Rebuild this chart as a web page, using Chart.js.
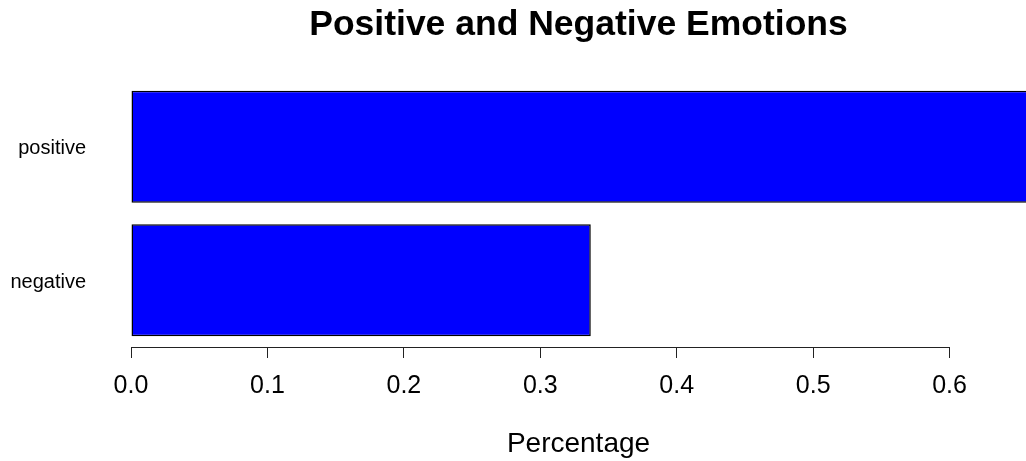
<!DOCTYPE html>
<html>
<head>
<meta charset="utf-8">
<script src="https://cdn.jsdelivr.net/npm/chart.js@4"></script>
<style>
  html, body { margin: 0; padding: 0; background: #fff; }
  #wrap { width: 1026px; height: 461px; position: relative; }
</style>
</head>
<body>
<div id="wrap"><canvas id="grafico"></canvas></div>
<script>
// dados do gráfico
const categorias = ['positive', 'negative'];
const valores = [0.663, 0.337];
const marcasX = [0, 0.1, 0.2, 0.3, 0.4, 0.5, 0.6];

const fonte = "'Liberation Sans', Arial, sans-serif";

// linha do eixo só de 0 até 0.6, como no R
const linhaEixo = {
    id: 'linhaEixo',
    afterDraw(chart) {
        const x = chart.scales.x;
        const c = chart.ctx;
        const y = chart.chartArea.bottom + 0.5;
        c.save();
        c.strokeStyle = '#222';
        c.lineWidth = 1;
        c.beginPath();
        c.moveTo(x.getPixelForValue(marcasX[0]), y);
        c.lineTo(x.getPixelForValue(marcasX[marcasX.length - 1]), y);
        c.stroke();
        c.restore();
    }
};

const ctx = document.getElementById('grafico').getContext('2d');
const grafico = new Chart(ctx, {
    type: 'bar',
    data: {
        labels: categorias,
        datasets: [{
            data: valores,
            backgroundColor: '#0000ff',
            borderColor: '#000',
            borderWidth: 1.5,
            borderSkipped: false,
            barPercentage: 0.839,
            categoryPercentage: 1
        }]
    },
    options: {
        indexAxis: 'y',
        responsive: true,
        maintainAspectRatio: false,
        animation: false,
        layout: { padding: 0 },
        plugins: {
            legend: { display: false },
            tooltip: { enabled: false },
            title: {
                display: true,
                text: 'Positive and Negative Emotions',
                fullSize: false,
                color: '#000',
                font: { family: fonte, size: 35.5, weight: 'bold' },
                padding: { top: 4, bottom: 33.4 }
            }
        },
        scales: {
            x: {
                min: 0,
                max: 0.656,
                afterBuildTicks: function(scale) {
                    scale.ticks = marcasX.map(v => ({ value: v }));
                },
                afterFit: function(scale) { scale.height = 114; },
                grid: {
                    drawOnChartArea: false,
                    drawTicks: true,
                    tickLength: 11,
                    color: '#222'
                },
                border: { display: false },
                ticks: {
                    color: '#000',
                    padding: 13,
                    maxRotation: 0,
                    font: { family: fonte, size: 25 },
                    callback: v => Number(v).toFixed(1)
                },
                title: {
                    display: true,
                    text: 'Percentage',
                    color: '#000',
                    font: { family: fonte, size: 28 },
                    padding: { top: 4, bottom: 0 }
                }
            },
            y: {
                afterFit: function(scale) { scale.width = 131; },
                grid: { display: false, drawTicks: false },
                border: { display: false },
                ticks: {
                    color: '#000',
                    padding: 45,
                    labelOffset: 2,
                    font: { family: fonte, size: 20 }
                }
            }
        }
    },
    plugins: [linhaEixo]
});
</script>
</body>
</html>
